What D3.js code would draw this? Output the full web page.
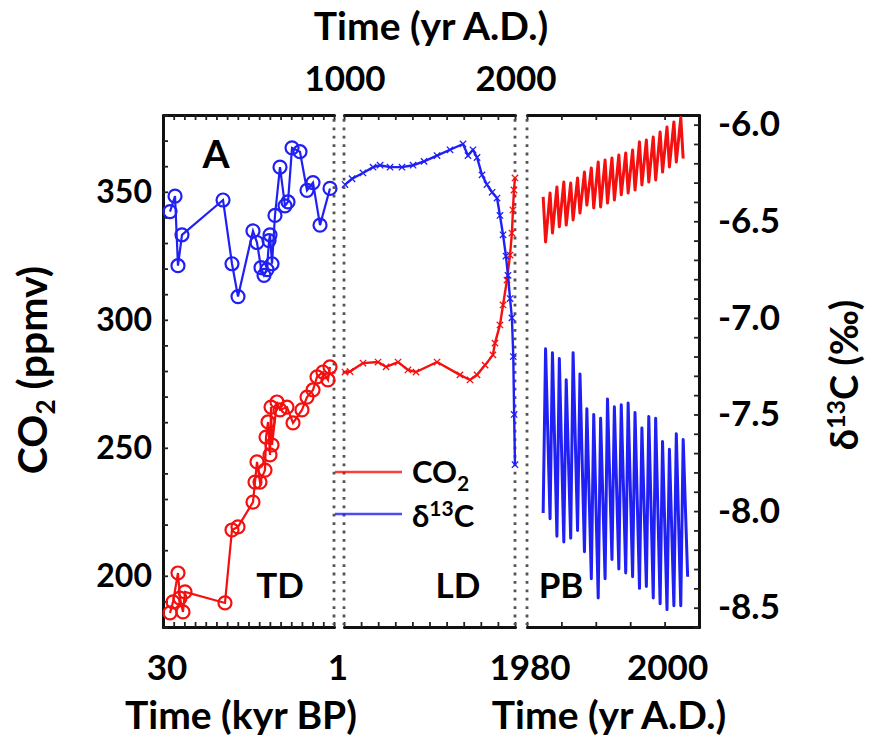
<!DOCTYPE html>
<html><head><meta charset="utf-8">
<script src="https://cdn.jsdelivr.net/npm/d3@7"></script>
<style>
body{margin:0;background:#fff}
svg{display:block}
text{font-family:Lato,'Open Sans',sans-serif;font-weight:700;fill:#000}
</style>
</head><body>
<svg id="chart" width="870" height="741"></svg>
<script>
// ---------------- DATA ----------------
// Taylor Dome (TD), age in kyr BP
const tdCO2Age = [28.81, 28.30, 27.46, 27.12, 26.61, 26.27, 19.49, 18.30, 17.28, 14.74, 14.40, 14.06, 13.55, 12.70, 12.53, 12.19, 11.85, 11.68, 11.51, 10.67, 10.16, 8.97, 7.95, 6.43, 5.58, 4.56, 3.88, 2.87, 2.02, 1.68];
const tdCO2    = [185.5, 189.8, 201.1, 191.3, 185.9, 193.7, 189.4, 217.9, 219.1, 228.8, 236.6, 244.5, 236.6, 241.3, 254.2, 260.1, 247.2, 265.9, 251.1, 267.9, 264.8, 265.9, 259.7, 264.8, 269.8, 272.6, 277.7, 279.6, 276.5, 281.6];
const tdD13CAge = [28.81, 27.96, 27.46, 26.78, 19.82, 18.30, 17.28, 14.74, 14.06, 13.38, 12.87, 12.37, 12.02, 11.85, 11.51, 11.01, 10.16, 9.31, 8.80, 8.12, 6.77, 5.58, 4.56, 3.37, 1.68];
const tdD13C    = [-6.45, -6.37, -6.73, -6.57, -6.39, -6.72, -6.89, -6.55, -6.61, -6.74, -6.78, -6.75, -6.60, -6.57, -6.72, -6.47, -6.22, -6.42, -6.40, -6.12, -6.14, -6.34, -6.30, -6.52, -6.33];
// Law Dome (LD), yr A.D.
const ldCO2Year = [1006, 1035, 1111, 1199, 1246, 1316, 1374, 1421, 1544, 1678, 1737, 1778, 1825, 1871, 1883, 1912, 1930, 1953, 1971, 1982, 1988, 1994, 2000];
const ldCO2     = [279.6, 279.8, 283.1, 283.5, 281.6, 283.5, 280.4, 279.6, 283.5, 278.5, 276.5, 278.5, 282.3, 286.3, 290.9, 298.0, 305.8, 315.5, 325.3, 333.9, 342.9, 350.7, 355.4];
const ldD13CYear = [1006, 1047, 1111, 1170, 1211, 1269, 1339, 1404, 1468, 1544, 1620, 1696, 1725, 1754, 1778, 1807, 1836, 1866, 1895, 1912, 1930, 1947, 1959, 1971, 1982, 1990, 1995, 2000];
const ldD13C     = [-6.31, -6.28, -6.25, -6.22, -6.21, -6.22, -6.22, -6.21, -6.19, -6.16, -6.13, -6.10, -6.16, -6.13, -6.17, -6.26, -6.31, -6.35, -6.38, -6.47, -6.57, -6.68, -6.78, -6.90, -7.00, -7.20, -7.50, -7.76];
// Point Barrow (PB), seasonal extremes per year
const pbYears = [1982, 1983, 1984, 1985, 1986, 1987, 1988, 1989, 1990, 1991, 1992, 1993, 1994, 1995, 1996, 1997, 1998, 1999, 2000, 2001, 2002];
const pbCO2Max = [348.0, 349.5, 351.9, 353.8, 353.4, 355.4, 357.7, 359.3, 361.6, 362.4, 363.2, 364.4, 365.2, 366.3, 369.5, 370.2, 371.4, 373.4, 375.3, 377.3, 379.0];
const pbCO2Min = [330.4, 333.9, 336.3, 337.0, 339.0, 341.7, 344.8, 343.7, 344.1, 345.6, 346.8, 348.8, 349.5, 350.7, 352.7, 353.8, 354.6, 357.7, 359.7, 361.6, 363.0];
const pbD13CMax = [-7.16, -7.18, -7.21, -7.32, -7.18, -7.29, -7.47, -7.50, -7.52, -7.42, -7.46, -7.45, -7.44, -7.49, -7.57, -7.51, -7.52, -7.64, -7.68, -7.60, -7.63];
const pbD13CMin = [-8.01, -8.04, -8.13, -8.16, -8.14, -8.10, -8.21, -8.35, -8.45, -8.35, -8.25, -8.30, -8.32, -8.34, -8.40, -8.39, -8.45, -8.48, -8.51, -8.49, -8.49, -8.34];
// Tick labels
const co2TickLabels = [200, 250, 300, 350];
const d13cTickLabels = [-8.5, -8.0, -7.5, -7.0, -6.5, -6.0];
const tdTickLabels = [30, 1];
const pbTickLabels = [1980, 2000];
const ldTopTickLabels = [1000, 2000];
const panelNames = ["TD", "LD", "PB"];
const seriesNames = ["CO₂", "δ¹³C"];

// ---------------- LAYOUT ----------------
const RED = "#f51010", BLUE = "#2020f5";
const yTop = 115, yBot = 627;
const svg = d3.select("#chart");
const yCO2 = d3.scaleLinear().domain([180, 380]).range([yBot, yTop]);
const yD = d3.scaleLinear().domain([-8.6, -5.95]).range([yBot, yTop]);
const xTD = d3.scaleLinear().domain([30, 1]).range([163, 334]);
const xLD = d3.scaleLinear().domain([1000, 2000]).range([344, 515]);
const xPB = d3.scaleLinear().domain([1980, 2005]).range([527, 699]);

function frameAxis(g) {
  g.selectAll(".domain").attr("stroke", "#111").attr("stroke-width", 3).attr("stroke-linecap", "round");
  g.selectAll(".tick line").attr("stroke", "#222").attr("stroke-width", 1.8);
}
const tdTicks = d3.range(17).map(i => 30 - i * 29 / 16);
const ldTicks = d3.range(1000, 2001, 100);
const pbTicks = d3.range(1980, 2006, 5);
[[xTD, tdTicks], [xLD, ldTicks], [xPB, pbTicks]].forEach(([sc, tv]) => {
  svg.append("g").attr("transform", `translate(0,${yBot})`)
    .call(d3.axisBottom(sc).tickValues(tv).tickSize(-5).tickSizeOuter(0).tickFormat(""))
    .call(frameAxis);
  svg.append("g").attr("transform", `translate(0,${yTop})`)
    .call(d3.axisTop(sc).tickValues(tv).tickSize(-5).tickSizeOuter(0).tickFormat(""))
    .call(frameAxis);
});
svg.append("g").attr("transform", "translate(163,0)")
  .call(d3.axisLeft(yCO2).tickValues(d3.range(180, 381, 10)).tickSize(-5).tickSizeOuter(0).tickFormat(""))
  .call(frameAxis);
svg.append("g").attr("transform", "translate(699,0)")
  .call(d3.axisRight(yD).tickValues(d3.range(-86, -59, 1).map(v => v / 10)).tickSize(-5).tickSizeOuter(0).tickFormat(""))
  .call(frameAxis);
[xTD(1), xLD(1000), xLD(2000), xPB(1980)].forEach(x => {
  svg.append("line").attr("x1", x).attr("x2", x).attr("y1", yTop + 4).attr("y2", yBot - 2)
    .attr("stroke", "#555").attr("stroke-width", 2.8).attr("stroke-dasharray", "2.8,5.6");
});

// tick labels
const tickFont = 35;
svg.append("g").attr("transform", "translate(163,0)")
  .call(d3.axisLeft(yCO2).tickValues(co2TickLabels).tickSize(0).tickPadding(11))
  .call(g => { g.select(".domain").remove(); g.selectAll("text").style("font-size", "32px").style("font-family", "Lato").style("font-weight", 700).attr("fill", "#000"); });
svg.append("g").attr("transform", "translate(699,0)")
  .call(d3.axisRight(yD).tickValues(d13cTickLabels).tickSize(0).tickPadding(19))
  .call(g => { g.select(".domain").remove(); g.selectAll("text").style("font-size", tickFont + "px").style("font-family", "Lato").style("font-weight", 700).attr("fill", "#000").text(d => d.toFixed(1)); });
tdTickLabels.forEach(v => svg.append("text").attr("x", xTD(v) + 4).attr("y", 680).attr("text-anchor", "middle").style("font-size", tickFont + "px").text(v));
pbTickLabels.forEach(v => svg.append("text").attr("x", xPB(v) + 3).attr("y", 680).attr("text-anchor", "middle").style("font-size", tickFont + "px").text(v));
ldTopTickLabels.forEach(v => svg.append("text").attr("x", xLD(v) + 1).attr("y", 91).attr("text-anchor", "middle").style("font-size", tickFont + "px").text(v));

// axis titles
const titleFont = 39;
svg.append("text").attr("x", 431).attr("y", 40).attr("text-anchor", "middle").style("font-size", titleFont + "px").text("Time (yr A.D.)");
svg.append("text").attr("x", 241).attr("y", 729).attr("text-anchor", "middle").style("font-size", titleFont + "px").text("Time (kyr BP)");
svg.append("text").attr("x", 609).attr("y", 729).attr("text-anchor", "middle").style("font-size", titleFont + "px").text("Time (yr A.D.)");
const lt = svg.append("text").attr("transform", "translate(47,370) rotate(-90)").attr("text-anchor", "middle").style("font-size", "41px");
lt.append("tspan").text("CO");
lt.append("tspan").attr("dy", 8).style("font-size", "26px").text("2");
lt.append("tspan").attr("dy", -8).text(" (ppmv)");
const rt = svg.append("text").attr("transform", "translate(858,375) rotate(-90)").attr("text-anchor", "middle").style("font-size", "38px");
rt.append("tspan").text("δ");
rt.append("tspan").attr("dy", -13).style("font-size", "25px").text("13");
rt.append("tspan").attr("dy", 13).text("C (‰)");

// panel labels
svg.append("text").attr("x", 216).attr("y", 168).attr("text-anchor", "middle").style("font-size", "39px").text("A");
const panelX = [280, 458, 561];
panelNames.forEach((n, i) => svg.append("text").attr("x", panelX[i]).attr("y", 598).attr("text-anchor", "middle").style("font-size", "35px").text(n));

// ---------------- SERIES ----------------
const tdRed = tdCO2Age.map((a, i) => [xTD(a), yCO2(tdCO2[i])]);
const tdBlue = tdD13CAge.map((a, i) => [xTD(a), yD(tdD13C[i])]);
[[tdRed, RED], [tdBlue, BLUE]].forEach(([pts, col]) => {
  svg.append("path").attr("d", d3.line()(pts)).attr("fill", "none").attr("stroke", col).attr("stroke-width", 2.2);
  svg.append("g").selectAll("circle").data(pts).join("circle")
    .attr("cx", d => d[0]).attr("cy", d => d[1]).attr("r", 6.5)
    .attr("fill", "none").attr("stroke", col).attr("stroke-width", 2.2);
});
const ldRed = ldCO2Year.map((y, i) => [xLD(y), yCO2(ldCO2[i])]);
const ldBlue = ldD13CYear.map((y, i) => [xLD(y), yD(ldD13C[i])]);
const xSym = d3.symbol().type(d3.symbolX).size(28);
[[ldRed, RED], [ldBlue, BLUE]].forEach(([pts, col]) => {
  svg.append("path").attr("d", d3.line()(pts)).attr("fill", "none").attr("stroke", col).attr("stroke-width", 2.4);
  svg.append("g").selectAll("path").data(pts).join("path")
    .attr("transform", d => `translate(${d[0]},${d[1]})`).attr("d", xSym)
    .attr("fill", "none").attr("stroke", col).attr("stroke-width", 1.3);
});
const pbRed = [];
pbYears.forEach((y, i) => {
  pbRed.push([xPB(y + 0.35), yCO2(pbCO2Max[i])]);
  pbRed.push([xPB(y + 0.70), yCO2(pbCO2Min[i])]);
});
const pbBlue = [];
pbD13CMin.forEach((v, i) => {
  pbBlue.push([xPB(1982 + i + 0.35), yD(v)]);
  if (i < pbD13CMax.length) pbBlue.push([xPB(pbYears[i] + 0.70), yD(pbD13CMax[i])]);
});
[[pbRed, RED], [pbBlue, BLUE]].forEach(([pts, col]) => {
  svg.append("path").attr("d", d3.line()(pts)).attr("fill", "none").attr("stroke", col)
    .attr("stroke-width", 3).attr("stroke-linejoin", "round");
});

// ---------------- LEGEND ----------------
const legY = [472, 514], legCol = [RED, BLUE];
seriesNames.forEach((n, i) => {
  svg.append("line").attr("x1", 335).attr("x2", 402).attr("y1", legY[i]).attr("y2", legY[i])
    .attr("stroke", legCol[i]).attr("stroke-width", 2.6).attr("opacity", 0.8);
});
const l1 = svg.append("text").attr("x", 412).attr("y", 483).style("font-size", "31px");
l1.append("tspan").text("CO");
l1.append("tspan").attr("dy", 8).style("font-size", "21px").text("2");
const l2 = svg.append("text").attr("x", 412).attr("y", 527).style("font-size", "31px");
l2.append("tspan").text("δ");
l2.append("tspan").attr("dy", -11).style("font-size", "21px").text("13");
l2.append("tspan").attr("dy", 11).text("C");
</script>
</body></html>
